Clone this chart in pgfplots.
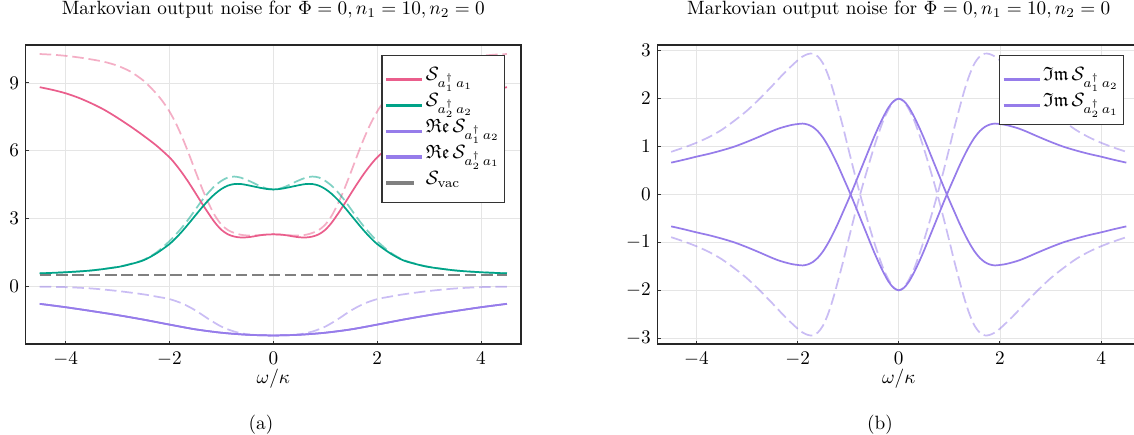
\documentclass[border=0pt]{standalone}
\usepackage{pgfplots}
\pgfplotsset{compat=1.18}
\usepackage{amssymb}
\definecolor{cpink}{RGB}{234,94,140}
\definecolor{cteal}{RGB}{0,163,136}
\definecolor{cpurple}{RGB}{150,124,234}
\definecolor{cgray}{RGB}{128,128,128}

\pgfplotstableread{
x y
-4.5 8.81
-4.25 8.69
-4.0 8.54
-3.75 8.34
-3.5 8.09
-3.25 7.80
-3.0 7.45
-2.75 7.07
-2.5 6.66
-2.25 6.22
-2.0 5.70
-1.875 5.37
-1.75 4.99
-1.625 4.57
-1.5 4.12
-1.375 3.66
-1.25 3.22
-1.125 2.81
-1.0 2.49
-0.875 2.29
-0.75 2.19
-0.625 2.15
-0.5 2.16
-0.375 2.20
-0.25 2.25
-0.125 2.28
0 2.29
0.125 2.28
0.25 2.25
0.375 2.20
0.5 2.16
0.625 2.15
0.75 2.19
0.875 2.29
1.0 2.49
1.125 2.81
1.25 3.22
1.375 3.66
1.5 4.12
1.625 4.57
1.75 4.99
1.875 5.37
2.0 5.70
2.25 6.22
2.5 6.66
2.75 7.07
3.0 7.45
3.25 7.80
3.5 8.09
3.75 8.34
4.0 8.54
4.25 8.69
4.5 8.81
}\pinksolid

\pgfplotstableread{
x y
-4.5 10.28
-4.25 10.25
-4.0 10.20
-3.75 10.13
-3.5 10.04
-3.25 9.93
-3.0 9.76
-2.75 9.50
-2.5 9.10
-2.375 8.82
-2.25 8.52
-2.125 8.16
-2.0 7.73
-1.875 7.20
-1.75 6.56
-1.625 5.84
-1.5 5.08
-1.375 4.34
-1.25 3.68
-1.125 3.12
-1.0 2.72
-0.875 2.48
-0.75 2.35
-0.625 2.27
-0.5 2.24
-0.375 2.24
-0.25 2.26
-0.125 2.28
0 2.29
0.125 2.28
0.25 2.26
0.375 2.24
0.5 2.24
0.625 2.27
0.75 2.35
0.875 2.48
1.0 2.72
1.125 3.12
1.25 3.68
1.375 4.34
1.5 5.08
1.625 5.84
1.75 6.56
1.875 7.20
2.0 7.73
2.125 8.16
2.25 8.52
2.375 8.82
2.5 9.10
2.75 9.50
3.0 9.76
3.25 9.93
3.5 10.04
3.75 10.13
4.0 10.20
4.25 10.25
4.5 10.28
}\pinkdashed

\pgfplotstableread{
x y
-4.5 0.56
-4.0 0.61
-3.5 0.69
-3.0 0.84
-2.75 0.97
-2.5 1.14
-2.25 1.45
-2.0 1.86
-1.875 2.13
-1.75 2.44
-1.625 2.78
-1.5 3.13
-1.375 3.48
-1.25 3.80
-1.125 4.08
-1.0 4.30
-0.875 4.45
-0.75 4.52
-0.625 4.52
-0.5 4.47
-0.375 4.41
-0.25 4.35
-0.125 4.30
0 4.28
0.125 4.30
0.25 4.35
0.375 4.41
0.5 4.47
0.625 4.52
0.75 4.52
0.875 4.45
1.0 4.30
1.125 4.08
1.25 3.80
1.375 3.48
1.5 3.13
1.625 2.78
1.75 2.44
1.875 2.13
2.0 1.86
2.25 1.45
2.5 1.14
2.75 0.97
3.0 0.84
3.5 0.69
4.0 0.61
4.5 0.56
}\tealsolid

\pgfplotstableread{
x y
-4.5 0.56
-4.0 0.61
-3.5 0.69
-3.0 0.85
-2.75 0.98
-2.5 1.16
-2.25 1.49
-2.0 1.99
-1.875 2.29
-1.75 2.62
-1.625 2.99
-1.5 3.39
-1.375 3.79
-1.25 4.14
-1.125 4.44
-1.0 4.66
-0.875 4.81
-0.75 4.85
-0.625 4.80
-0.5 4.69
-0.375 4.56
-0.25 4.42
-0.125 4.32
0 4.28
0.125 4.32
0.25 4.42
0.375 4.56
0.5 4.69
0.625 4.80
0.75 4.85
0.875 4.81
1.0 4.66
1.125 4.44
1.25 4.14
1.375 3.79
1.5 3.39
1.625 2.99
1.75 2.62
1.875 2.29
2.0 1.99
2.25 1.49
2.5 1.16
2.75 0.98
3.0 0.85
3.5 0.69
4.0 0.61
4.5 0.56
}\tealdashed

\pgfplotstableread{
x y
-4.5 -0.79
-4.0 -0.94
-3.5 -1.11
-3.0 -1.29
-2.5 -1.49
-2.0 -1.71
-1.5 -1.92
-1.0 -2.07
-0.5 -2.16
0 -2.19
0.5 -2.16
1.0 -2.07
1.5 -1.92
2.0 -1.71
2.5 -1.49
3.0 -1.29
3.5 -1.11
4.0 -0.94
4.5 -0.79
}\resolid

\pgfplotstableread{
x y
-4.5 -0.03
-4.0 -0.05
-3.5 -0.11
-3.0 -0.22
-2.5 -0.37
-2.25 -0.47
-2.0 -0.58
-1.75 -0.78
-1.5 -1.08
-1.25 -1.46
-1.0 -1.80
-0.75 -2.02
-0.5 -2.14
-0.25 -2.18
0 -2.19
0.25 -2.18
0.5 -2.14
0.75 -2.02
1.0 -1.80
1.25 -1.46
1.5 -1.08
1.75 -0.78
2.0 -0.58
2.25 -0.47
2.5 -0.37
3.0 -0.22
3.5 -0.11
4.0 -0.05
4.5 -0.03
}\redashed

\pgfplotstableread{
x y
-4.5 0.5
4.5 0.5
}\vac

\pgfplotstableread{
x a b
-4.5 0.665 -0.665
-4.25 0.725 -0.725
-4.0 0.79 -0.79
-3.75 0.85 -0.85
-3.5 0.92 -0.92
-3.25 1.00 -1.00
-3.0 1.10 -1.10
-2.75 1.21 -1.21
-2.5 1.325 -1.325
-2.35 1.385 -1.385
-2.2 1.43 -1.43
-2.1 1.455 -1.455
-2.0 1.47 -1.47
-1.9 1.48 -1.48
-1.8 1.46 -1.46
-1.7 1.41 -1.41
-1.6 1.32 -1.32
-1.5 1.19 -1.19
-1.4 1.02 -1.02
-1.3 0.82 -0.82
-1.2 0.60 -0.60
-1.1 0.36 -0.36
-1.0 0.12 -0.12
-0.9 -0.13 0.13
-0.8 -0.39 0.39
-0.7 -0.65 0.65
-0.6 -0.91 0.91
-0.5 -1.17 1.17
-0.4 -1.41 1.41
-0.3 -1.63 1.63
-0.2 -1.82 1.82
-0.1 -1.95 1.95
0 -2.0 2.0
0.1 -1.95 1.95
0.2 -1.82 1.82
0.3 -1.63 1.63
0.4 -1.41 1.41
0.5 -1.17 1.17
0.6 -0.91 0.91
0.7 -0.65 0.65
0.8 -0.39 0.39
0.9 -0.13 0.13
1.0 0.12 -0.12
1.1 0.36 -0.36
1.2 0.60 -0.60
1.3 0.82 -0.82
1.4 1.02 -1.02
1.5 1.19 -1.19
1.6 1.32 -1.32
1.7 1.41 -1.41
1.8 1.46 -1.46
1.9 1.48 -1.48
2.0 1.47 -1.47
2.1 1.455 -1.455
2.2 1.43 -1.43
2.35 1.385 -1.385
2.5 1.325 -1.325
2.75 1.21 -1.21
3.0 1.10 -1.10
3.25 1.00 -1.00
3.5 0.92 -0.92
3.75 0.85 -0.85
4.0 0.79 -0.79
4.25 0.725 -0.725
4.5 0.665 -0.665
}\imsolid

\pgfplotstableread{
x c d
-4.5 0.89 -0.89
-4.25 0.98 -0.98
-4.0 1.08 -1.08
-3.75 1.20 -1.20
-3.5 1.35 -1.35
-3.25 1.54 -1.54
-3.0 1.75 -1.75
-2.75 2.00 -2.00
-2.5 2.27 -2.27
-2.25 2.55 -2.55
-2.0 2.80 -2.80
-1.9 2.88 -2.88
-1.8 2.93 -2.93
-1.7 2.94 -2.94
-1.6 2.88 -2.88
-1.5 2.74 -2.74
-1.4 2.50 -2.50
-1.3 2.18 -2.18
-1.2 1.80 -1.80
-1.1 1.40 -1.40
-1.0 0.97 -0.97
-0.9 0.55 -0.55
-0.8 0.14 -0.14
-0.7 -0.24 0.24
-0.6 -0.60 0.60
-0.5 -0.95 0.95
-0.4 -1.27 1.27
-0.3 -1.56 1.56
-0.2 -1.78 1.78
-0.1 -1.94 1.94
0 -2.0 2.0
0.1 -1.94 1.94
0.2 -1.78 1.78
0.3 -1.56 1.56
0.4 -1.27 1.27
0.5 -0.95 0.95
0.6 -0.60 0.60
0.7 -0.24 0.24
0.8 0.14 -0.14
0.9 0.55 -0.55
1.0 0.97 -0.97
1.1 1.40 -1.40
1.2 1.80 -1.80
1.3 2.18 -2.18
1.4 2.50 -2.50
1.5 2.74 -2.74
1.6 2.88 -2.88
1.7 2.94 -2.94
1.8 2.93 -2.93
1.9 2.88 -2.88
2.0 2.80 -2.80
2.25 2.55 -2.55
2.5 2.27 -2.27
2.75 2.00 -2.00
3.0 1.75 -1.75
3.25 1.54 -1.54
3.5 1.35 -1.35
3.75 1.20 -1.20
4.0 1.08 -1.08
4.25 0.98 -0.98
4.5 0.89 -0.89
}\imdashed

\begin{document}
\begin{tikzpicture}
\pgfplotsset{
  myaxis/.style={
    scale only axis, anchor=south west,
    height=155.48pt,
    xmin=-4.77, xmax=4.77,
    xtick={-4,-2,0,2,4},
    grid=major, grid style={color=black!10, line width=0.4pt},
    tick align=inside, major tick length=1.7pt,
    tick style={black!80, line width=0.5pt},
    xtick pos=bottom, ytick pos=left,
    axis line style={black!85, line width=0.7pt},
    xlabel={$\omega/\kappa$},
    xlabel style={at={(axis description cs:0.5,0)}, anchor=base, yshift=-20.4pt},
    xticklabel style={anchor=base, yshift=-10.4pt},
    title style={at={(axis description cs:0.5,1)}, anchor=base, yshift=9.8pt},
    title={Markovian output noise for $\Phi = 0, n_1 = 10, n_2 = 0$},
    legend cell align=left,
    legend style={
      at={(1,1)}, anchor=north east, xshift=-8.3pt, yshift=-5.2pt,
      draw=black!80, line width=0.6pt, fill=white,
      inner xsep=1.5pt, inner ysep=5pt,
      row sep=1pt,
      nodes={inner xsep=1pt, inner ysep=0pt, text height=8pt, text depth=4.5pt},
      font=\normalsize,
    },
    legend image code/.code={\draw[#1, line width=1.6pt, solid, opacity=1] (0pt,-1pt) -- (18.7pt,-1pt);},
  },
  sl/.style={line width=0.9pt, smooth, tension=0.5},
  dl/.style={line width=0.9pt, opacity=0.5, dash pattern=on 6pt off 2.5pt, smooth, tension=0.5},
}
\begin{axis}[myaxis, at={(13.36pt,46.8pt)}, width=257.56pt,
  ymin=-2.57, ymax=10.68, ytick={0,3,6,9}]
\addplot[cpink, dl, forget plot] table[x=x,y=y] {\pinkdashed};
\addplot[cteal, dl, forget plot] table[x=x,y=y] {\tealdashed};
\addplot[cpurple, dl, forget plot] table[x=x,y=y] {\redashed};
\addplot[cpink, sl] table[x=x,y=y] {\pinksolid};
\addlegendentry{$\mathcal{S}_{a_1^\dagger\, a_1}$}
\addplot[cteal, sl] table[x=x,y=y] {\tealsolid};
\addlegendentry{$\mathcal{S}_{a_2^\dagger\, a_2}$}
\addplot[cpurple, sl] table[x=x,y=y] {\resolid};
\addlegendentry{$\mathfrak{Re}\,\mathcal{S}_{a_1^\dagger\, a_2}$}
\addplot[cpurple, sl] table[x=x,y=y] {\resolid};
\addlegendentry{$\mathfrak{Re}\,\mathcal{S}_{a_2^\dagger\, a_1}$}
\addplot[cgray, line width=1pt, dash pattern=on 6pt off 2.5pt,
  legend image code/.code={\draw[cgray, solid, line width=1.6pt] (0pt,-1pt) -- (14.5pt,-1pt);}] table[x=x,y=y] {\vac};
\addlegendentry{$\mathcal{S}_{\mathrm{vac}}$}
\end{axis}

\begin{axis}[myaxis, at={(341.9pt,46.8pt)}, width=250.9pt,
  ymin=-3.12, ymax=3.12, ytick={-3,-2,-1,0,1,2,3}]
\addplot[cpurple, dl, forget plot] table[x=x,y=c] {\imdashed};
\addplot[cpurple, dl, forget plot] table[x=x,y=d] {\imdashed};
\addplot[cpurple, sl] table[x=x,y=a] {\imsolid};
\addlegendentry{$\mathfrak{Im}\,\mathcal{S}_{a_1^\dagger\, a_2}$}
\addplot[cpurple, sl] table[x=x,y=b] {\imsolid};
\addlegendentry{$\mathfrak{Im}\,\mathcal{S}_{a_2^\dagger\, a_1}$}
\end{axis}

\node[anchor=base] at (135.7pt,2.34pt) {(a)};
\node[anchor=base] at (457.6pt,2.34pt) {(b)};

\pgfresetboundingbox
\path[use as bounding box] (0,0) rectangle (589.68pt,225.68pt);
\end{tikzpicture}
\end{document}
